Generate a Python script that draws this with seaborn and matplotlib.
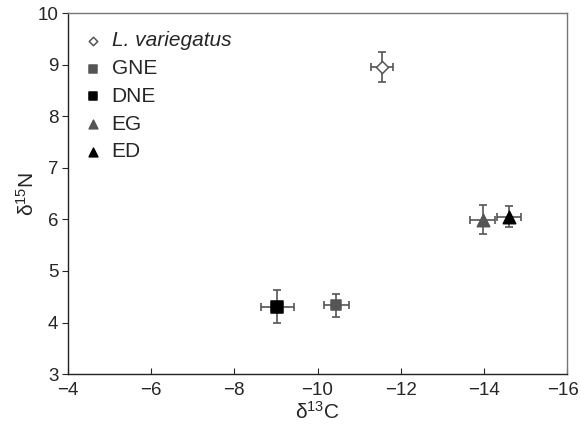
import pandas as pd
import matplotlib
matplotlib.use("Agg")
import matplotlib.pyplot as plt
import matplotlib.transforms as mtransforms
import seaborn as sns

# mean isotope values with SE bars
groups = ["L. variegatus", "GNE", "DNE", "EG", "ED"]
d13c = [-11.55, -10.45, -9.03, -13.97, -14.6]
d15n = [8.96, 4.33, 4.31, 5.99, 6.05]
d13c_err = [0.26, 0.3, 0.4, 0.3, 0.29]
d15n_err = [0.29, 0.22, 0.32, 0.28, 0.2]

face = ["white", "#555555", "black", "#555555", "black"]
edge = ["#555555", "#555555", "black", "#555555", "black"]
marks = ["D", "s", "s", "^", "^"]
sizes = [38, 62, 80, 80, 80]

df = pd.DataFrame({"group": groups, "d13C": d13c, "d15N": d15n,
                   "xerr": d13c_err, "yerr": d15n_err})

sns.set_style("white")
plt.rcParams["font.family"] = ["Liberation Sans", "DejaVu Sans"]
plt.rcParams["mathtext.default"] = "regular"

fig = plt.figure(figsize=(5.81, 4.37), dpi=100)
ax = fig.add_axes([0.117, 0.144, 0.859, 0.826])

ax.errorbar(df["d13C"], df["d15N"], xerr=df["xerr"], yerr=df["yerr"],
            fmt="none", ecolor="#555555", elinewidth=1.2, capsize=3, capthick=1.2, zorder=1)

for i, row in df.iterrows():
    sns.scatterplot(x=[row["d13C"]], y=[row["d15N"]], ax=ax, marker=marks[i],
                    s=sizes[i], color=face[i], edgecolor=edge[i], linewidth=1.1,
                    label=row["group"], zorder=3)

ax.set_xlim(-4, -16)
ax.set_ylim(3, 10)
ax.set_xticks(range(-4, -17, -2))
ax.set_xticklabels(["\u2212" + str(abs(t)) for t in range(-4, -17, -2)])
ax.set_yticks(range(3, 11))
ax.tick_params(axis="x", direction="in", length=4, labelsize=13.5, pad=6, bottom=True)
ax.tick_params(axis="y", direction="out", length=4, labelsize=13.5, pad=3, left=True)
ax.set_xlabel("\u03b4$^{13}$C", fontsize=15, labelpad=1)
ax.set_ylabel("\u03b4$^{15}$N", fontsize=15, labelpad=0)

# keep the last x label inside the canvas
last = ax.get_xticklabels()[-1]
last.set_transform(last.get_transform() + mtransforms.ScaledTranslation(-4 / 100, 0, fig.dpi_scale_trans))

for s in ["top", "right"]:
    ax.spines[s].set_color("#777777")
for s in ["left", "bottom"]:
    ax.spines[s].set_color("#222222")
for s in ax.spines.values():
    s.set_linewidth(1.0)

leg = ax.legend(loc="upper left", frameon=False, fontsize=15, markerscale=0.7,
                handletextpad=0.4, labelspacing=0.42, borderaxespad=0.3,
                handlelength=1.0, bbox_to_anchor=(0.0, 0.99))
leg.get_texts()[0].set_fontstyle("italic")

fig.savefig("out.png", dpi=100)
